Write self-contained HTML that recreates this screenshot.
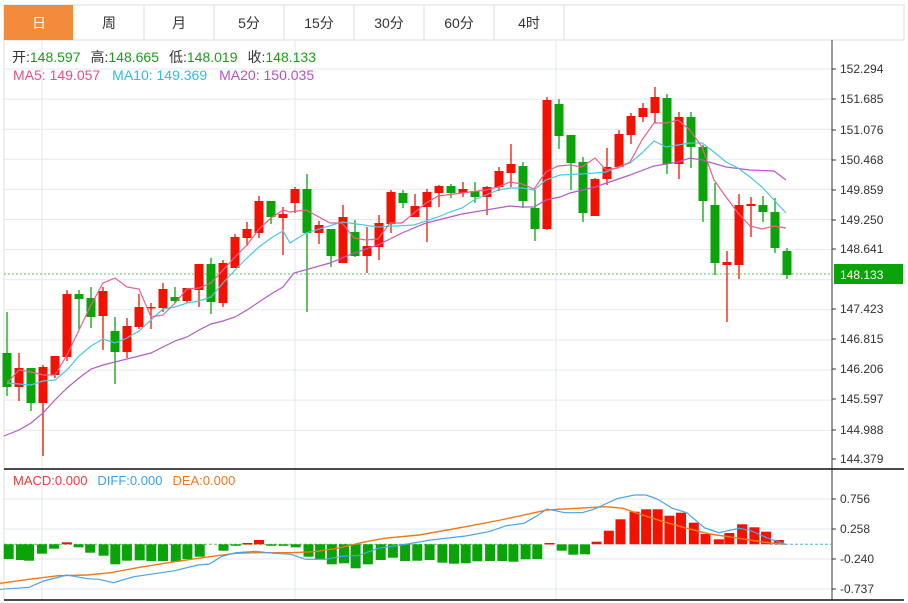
<!DOCTYPE html>
<html><head><meta charset="utf-8">
<style>
body{margin:0;background:#fff;width:908px;height:603px;overflow:hidden;font-family:"Liberation Sans","Noto Sans CJK SC",sans-serif;}
svg{position:absolute;left:0;top:0}
</style></head><body>
<svg id="s" width="908" height="603" xmlns="http://www.w3.org/2000/svg" font-family="Liberation Sans, Noto Sans CJK SC, sans-serif"></svg>
<script>
const S=document.getElementById('s');let h='';
h+='<rect x="4" y="5" width="900" height="35" fill="#fff" stroke="#ddd"/>';
h+='<rect x="4" y="5" width="69" height="35" fill="#f28c3c"/>';
const tabs=['日','周','月','5分','15分','30分','60分','4时'];
tabs.forEach((t,i)=>{const x=4+i*70;if(i>0)h+=`<line x1="${x+70}" y1="5" x2="${x+70}" y2="40" stroke="#ddd"/>`;
h+=`<text x="${x+35}" y="28" font-size="14" text-anchor="middle" fill="${i==0?'#fff':'#333'}">${t}</text>`;});
h+='<line x1="4" y1="40" x2="4" y2="600" stroke="#ddd"/>';
for(let y=69;y<=460;y+=30.1){h+=`<line x1="4" y1="${y.toFixed(1)}" x2="832" y2="${y.toFixed(1)}" stroke="#e3e9ef"/>`;}
[499,529,559,589].forEach(y=>h+=`<line x1="4" y1="${y}" x2="832" y2="${y}" stroke="#e3e9ef"/>`);
[42,295,556].forEach(x=>h+=`<line x1="${x}" y1="40" x2="${x}" y2="600" stroke="#e3e9ef"/>`);
h+='<line x1="832" y1="40" x2="832" y2="600" stroke="#333"/>';
h+='<line x1="4" y1="469" x2="904" y2="469" stroke="#111" stroke-width="1.5"/>';
h+='<line x1="4" y1="600" x2="904" y2="600" stroke="#111" stroke-width="1.5"/>';
const pl=[['152.294',69],['151.685',99],['151.076',130],['150.468',160],['149.859',190],['149.250',220],['148.641',249],['147.423',309],['146.815',339],['146.206',369],['145.597',399],['144.988',430],['144.379',459]];
pl.forEach(([t,y])=>{h+=`<line x1="832" y1="${y}" x2="836" y2="${y}" stroke="#333"/><text x="840" y="${y+4}" font-size="12" fill="#333">${t}</text>`;});
[['0.756',499],['0.258',529],['-0.240',559],['-0.737',589]].forEach(([t,y])=>{h+=`<line x1="832" y1="${y}" x2="836" y2="${y}" stroke="#333"/><text x="840" y="${y+4}" font-size="12" fill="#333">${t}</text>`;});
h+='<line x1="4" y1="274" x2="832" y2="274" stroke="#5cc05c" stroke-dasharray="2,2"/>';
h+='<rect x="834" y="264" width="69" height="20" fill="#0aa30a"/><text x="840" y="279" font-size="12" fill="#fff">148.133</text>';
const C=[[353,387,312,396,0],[387,368,353,401],[368,403,368,411,0],[403,367,365,456],[375,356,356,378],[357,294,290,361],[294,299,290,329,0],[298,317,287,328,0],[316,291,287,350],[331,352,317,384,0],[352,326,318,358],[327,307,294,329],[308,307,303,329],[308,289,283,312],[297,301,287,303,0],[301,288,288,303],[290,264,264,307],[264,302,258,314,0],[303,263,260,307],[268,237,234,268],[238,229,222,246],[233,201,196,238],[201,217,201,224,0],[218,214,207,255],[203,189,187,213],[189,233,174,312,0],[233,225,221,244],[229,256,229,267,0],[263,217,205,263],[232,256,220,257,0],[256,246,227,273],[247,223,215,260],[224,192,190,233],[193,203,190,208,0],[217,206,194,217],[207,192,189,242],[193,186,185,207],[186,193,184,198,0],[193,189,182,197],[191,197,182,203,0],[197,187,186,215],[187,171,167,191],[173,164,144,187],[166,201,162,208,0],[208,229,190,241,0],[229,100,97,230],[104,136,99,149,0],[135,163,135,190,0],[162,213,157,222,0],[216,179,178,216],[179,167,148,185],[167,134,130,167],[135,116,113,144],[117,108,103,122],[113,97,87,123],[98,164,94,174,0],[164,117,112,179],[117,147,112,168,0],[147,201,145,222,0],[205,263,183,275,0],[265,262,251,322],[265,205,194,279],[206,204,197,237],[205,212,196,222,0],[212,248,198,253,0],[251,275,248,279,0]];
C.forEach((c,i)=>{const x=7+i*12;const g=c[4]===0;const col=g?'#0aa30a':'#f31200';const t=Math.min(c[0],c[1]),b=Math.max(c[0],c[1]);
h+=`<line x1="${x}" y1="${c[2]}" x2="${x}" y2="${c[3]}" stroke="${col}" stroke-width="1.3"/><rect x="${x-4.5}" y="${t}" width="9" height="${Math.max(b-t,1.5)}" fill="${col}"/>`;});
function pline(p,col,w){return `<polyline points="${p.map(a=>a.join(',')).join(' ')}" fill="none" stroke="${col}" stroke-width="${w||1.2}"/>`;}
const ma5=[[7,383],[19,370],[31,372],[43,375],[55,375],[67,355],[79,330],[91,305],[103,283],[115,278],[127,287],[139,289],[151,317],[163,315],[175,303],[187,289],[199,288],[211,283],[223,270],[235,257],[247,245],[259,229],[271,218],[283,210],[290,212],[306,210],[330,223],[342,223],[354,238],[366,240],[378,239],[390,223],[402,223],[426,203],[438,196],[462,193],[486,190],[498,187],[510,182],[522,184],[534,189],[546,172],[558,166],[570,165],[582,167],[595,158],[606,170],[618,168],[630,162],[642,140],[654,123],[666,123],[678,120],[690,130],[702,147],[714,180],[726,197],[738,213],[750,226],[762,229],[774,226],[786,228]];
const ma10=[[7,383],[19,384],[31,385],[43,381],[55,380],[67,370],[79,356],[91,346],[103,339],[115,343],[127,338],[139,331],[151,320],[163,309],[175,307],[187,303],[199,301],[211,297],[223,283],[235,270],[247,258],[259,247],[271,238],[283,231],[290,243],[306,233],[342,222],[378,227],[414,225],[438,217],[450,212],[462,208],[474,200],[486,195],[498,190],[510,188],[522,188],[534,190],[546,180],[560,175],[582,174],[606,172],[618,167],[630,163],[642,153],[654,141],[666,147],[690,143],[702,143],[714,152],[726,162],[738,168],[750,177],[762,187],[774,200],[786,213]];
const ma20=[[4,436],[19,430],[31,423],[43,413],[55,400],[67,388],[79,378],[91,369],[103,365],[115,362],[127,359],[139,356],[151,353],[163,347],[175,341],[187,337],[199,330],[211,324],[223,321],[235,317],[247,310],[259,302],[271,294],[283,287],[294,273],[330,263],[354,253],[378,245],[402,233],[426,223],[450,217],[462,214],[486,210],[510,206],[522,207],[534,207],[546,200],[560,197],[570,193],[595,187],[630,175],[654,166],[678,162],[690,158],[702,160],[726,167],[750,170],[774,171],[786,180]];
h+=pline(ma20,'#b45cc8')+pline(ma10,'#4cc8df')+pline(ma5,'#ee5f8c');
const fx=z=>(z/1.718).toFixed(1),fy=z=>(460+z/3).toFixed(1);
h+='<line x1="4" y1="544.3" x2="532" y2="544.3" stroke="#5cc05c" stroke-dasharray="3,2"/>';
h+='<line x1="770" y1="544.3" x2="832" y2="544.3" stroke="#4ab0e8" stroke-dasharray="3,2"/>';
const bars=[[15,297],[36,300],[50,302],[72,281],[93,266],[115,247],[135,262],[155,278],[178,287],[198,313],[218,302],[240,301],[260,303],[280,303],[302,305],[322,297],[343,290],[384,272],[405,256],[425,249],[445,240],[466,254],[487,254],[508,262],[530,290],[550,297],[570,313],[591,310],[611,325],[632,313],[654,300],[675,293],[696,303],[717,302],[738,300],[760,308],[780,311],[800,310],[820,304],[842,303],[863,303],[882,305],[903,298],[923,297],[944,249],[965,272],[985,284],[1005,283],[1025,245],[1046,212],[1066,178],[1090,155],[1110,148],[1130,148],[1150,167],[1170,158],[1192,188],[1212,222],[1235,238],[1253,219],[1275,193],[1296,202],[1316,215],[1338,240]];
bars.forEach(([zx,zy])=>{const x=zx/1.718,y=460+zy/3,z=544.3;const col=y<z?'#f31200':'#0aa30a';h+=`<rect x="${(x-5).toFixed(1)}" y="${Math.min(y,z).toFixed(1)}" width="10" height="${Math.max(Math.abs(y-z),1.5).toFixed(1)}" fill="${col}"/>`;});
const diff=[[0,388],[50,382],[75,363],[115,345],[150,356],[170,358],[195,368],[230,350],[270,340],[300,332],[340,315],[360,312],[380,290],[405,278],[440,274],[470,280],[500,283],[525,298],[560,298],[590,288],[615,287],[650,265],[700,252],[740,240],[800,228],[840,215],[870,197],[900,190],[920,170],[940,147],[970,158],[1000,158],[1020,148],[1060,116],[1090,105],[1110,105],[1130,118],[1155,145],[1180,158],[1210,203],[1235,218],[1270,205],[1290,212],[1320,235],[1350,253]].map(([a,b])=>[fx(a),fy(b)]);
const dea=[[0,370],[50,358],[100,347],[150,345],[190,338],[240,322],[300,305],[360,290],[405,280],[440,278],[500,278],[540,275],[580,265],[620,248],[660,235],[720,225],[800,200],[860,180],[940,150],[990,145],[1040,140],[1070,145],[1100,163],[1140,185],[1180,205],[1220,222],[1270,235],[1310,246],[1350,253]].map(([a,b])=>[fx(a),fy(b)]);
h+=pline(dea,'#f07818',1.4)+pline(diff,'#4aa3f0',1.2);
h+='<text x="12" y="62" font-size="14"><tspan fill="#333">开:</tspan><tspan fill="#1a9e1a">148.597</tspan><tspan fill="#333" dx="10">高:</tspan><tspan fill="#1a9e1a">148.665</tspan><tspan fill="#333" dx="10">低:</tspan><tspan fill="#1a9e1a">148.019</tspan><tspan fill="#333" dx="10">收:</tspan><tspan fill="#1a9e1a">148.133</tspan></text>';
h+='<text x="13" y="80" font-size="14"><tspan fill="#ec4f82">MA5: 149.057</tspan><tspan fill="#2cc0da" dx="12">MA10: 149.369</tspan><tspan fill="#b452c8" dx="12">MA20: 150.035</tspan></text>';
h+='<text x="13" y="485" font-size="13"><tspan fill="#f03a3a">MACD:0.000</tspan><tspan fill="#3ba0ec" dx="10">DIFF:0.000</tspan><tspan fill="#f07818" dx="10">DEA:0.000</tspan></text>';
S.innerHTML=h;
</script>
</body></html>
